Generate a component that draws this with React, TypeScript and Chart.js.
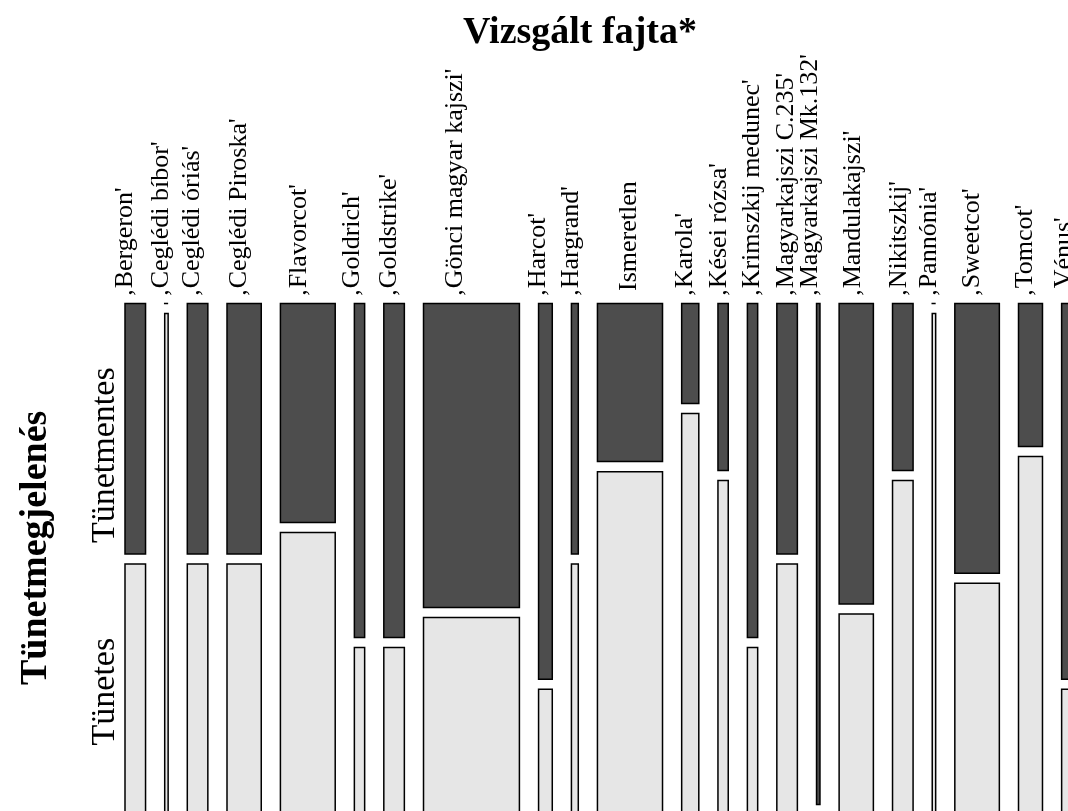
import { useEffect, useRef } from "react";
import { Chart, registerables } from "chart.js";

Chart.register(...registerables);

// ---- data ----
const varieties = [
  "‚Bergeron'",
  "‚Ceglédi bíbor'",
  "‚Ceglédi óriás'",
  "‚Ceglédi Piroska'",
  "‚Flavorcot'",
  "‚Goldrich'",
  "‚Goldstrike'",
  "‚Gönci magyar kajszi'",
  "‚Harcot'",
  "‚Hargrand'",
  "Ismeretlen",
  "‚Karola'",
  "‚Kései rózsa'",
  "‚Krimszkij medunec'",
  "‚Magyarkajszi C.235'",
  "‚Magyarkajszi Mk.132'",
  "‚Mandulakajszi'",
  "‚Nikitszkij'",
  "‚Pannónia'",
  "‚Sweetcot'",
  "‚Tomcot'",
  "‚Vénus'",
];
// Tünetmentes (symptom free, dark cells)
const symptomFree = [3, 0, 3, 5, 7, 2, 4, 17, 3, 1, 6, 1, 1, 2, 3, 1, 6, 2, 0, 7, 2, 3];
// Tünetes (symptomatic, light cells)
const symptomatic = [3, 1, 3, 5, 9, 1, 2, 11, 1, 1, 13, 4, 2, 1, 3, 0, 4, 4, 1, 6, 5, 1];

const rowLabels = ["Tünetmentes", "Tünetes"];
const xTitle = "Vizsgált fajta*";
const yTitle = "Tünetmegjelenés";

// ---- layout / style (not data) ----
const GAP_X = 5.594; // gap between columns, in count units
const GAP_Y = 0.02; // gap between the two rows, in proportion units
const DARK = "#4D4D4D";
const LIGHT = "#E6E6E6";
const FONT = '"Liberation Serif", "Times New Roman", serif';
const labelNudge = [-11.5, -7.5, -6.7, -6.5, -10.3, -8.9, -6.5, -18, -9, -5, -2.5, -7, -5.8, -2.5, -2.8, -9.7, -4.5, -5, -6.6, -6.7, -7.5, -6];
const rowLabelPos = [0.303, 0.775];
const yTitlePos = 0.488;

function buildMosaic() {
  const datasets: any[] = [];
  const centers: number[] = [];
  let left = 0;
  varieties.forEach((name, i) => {
    const n = symptomFree[i] + symptomatic[i];
    const right = left + n;
    const p = symptomFree[i] / n;
    centers.push((left + right) / 2);
    const rect = (y0: number, y1: number) => [
      { x: left, y: y0 },
      { x: right, y: y0 },
      { x: right, y: y1 },
      { x: left, y: y1 },
      { x: left, y: y0 },
    ];
    const common = {
      showLine: true,
      fill: "shape",
      borderColor: "#000000",
      borderWidth: 1.5,
      borderJoinStyle: "miter",
      borderCapStyle: "square",
      pointRadius: 0,
      pointHoverRadius: 0,
      tension: 0,
      clip: false,
    };
    datasets.push({ ...common, label: name + " – " + rowLabels[0], data: rect(0, p), backgroundColor: DARK });
    datasets.push({ ...common, label: name + " – " + rowLabels[1], data: rect(p + GAP_Y, 1 + GAP_Y), backgroundColor: LIGHT });
    left = right + GAP_X;
  });
  return { datasets, centers };
}

export default function App() {
  const ref = useRef<HTMLCanvasElement | null>(null);

  useEffect(() => {
    if (!ref.current) return;
    const { datasets, centers } = buildMosaic();

    const textPlugin = {
      id: "mosaicText",
      afterDraw(chart: any) {
        const ctx = chart.ctx as CanvasRenderingContext2D;
        const xs = chart.scales.x;
        const ys = chart.scales.y;
        ctx.save();
        ctx.fillStyle = "#000";
        ctx.textBaseline = "alphabetic";
        // top title
        ctx.font = `bold 38px ${FONT}`;
        ctx.textAlign = "center";
        ctx.fillText(xTitle, 580, 43);
        // column labels
        ctx.font = `26px ${FONT}`;
        ctx.textAlign = "left";
        centers.forEach((c, i) => {
          const px = xs.getPixelForValue(c) + labelNudge[i] + 8.6;
          const startY = varieties[i].startsWith("‚") ? 297 : 291;
          ctx.save();
          ctx.translate(px, startY);
          ctx.rotate(-Math.PI / 2);
          ctx.fillText(varieties[i], 0, 0);
          ctx.restore();
        });
        // row labels
        ctx.font = `34px ${FONT}`;
        ctx.textAlign = "center";
        rowLabels.forEach((lab, i) => {
          ctx.save();
          ctx.translate(114, ys.getPixelForValue(rowLabelPos[i]));
          ctx.rotate(-Math.PI / 2);
          ctx.fillText(lab, 0, 0);
          ctx.restore();
        });
        // left title
        ctx.font = `bold 38px ${FONT}`;
        ctx.save();
        ctx.translate(46, ys.getPixelForValue(yTitlePos));
        ctx.rotate(-Math.PI / 2);
        ctx.fillText(yTitle, 0, 0);
        ctx.restore();
        ctx.restore();
      },
    };

    const chart = new Chart(ref.current, {
      type: "line",
      data: { datasets },
      options: {
        animation: false,
        responsive: false,
        devicePixelRatio: 1,
        layout: { padding: { left: 125, top: 303.4, right: 0, bottom: 0 } },
        plugins: { legend: { display: false }, tooltip: { enabled: false } },
        events: [],
        scales: {
          x: { type: "linear", display: false, min: 0, max: 275.33 },
          y: { type: "linear", display: false, reverse: true, min: 0, max: 1.0132 },
        },
      } as any,
      plugins: [textPlugin],
    });
    return () => chart.destroy();
  }, []);

  return (
    <div style={{ position: "absolute", left: 0, top: 0, width: 1068, height: 811, background: "#fff", overflow: "hidden" }}>
      <canvas ref={ref} width={1068} height={811} style={{ display: "block" }} />
    </div>
  );
}
